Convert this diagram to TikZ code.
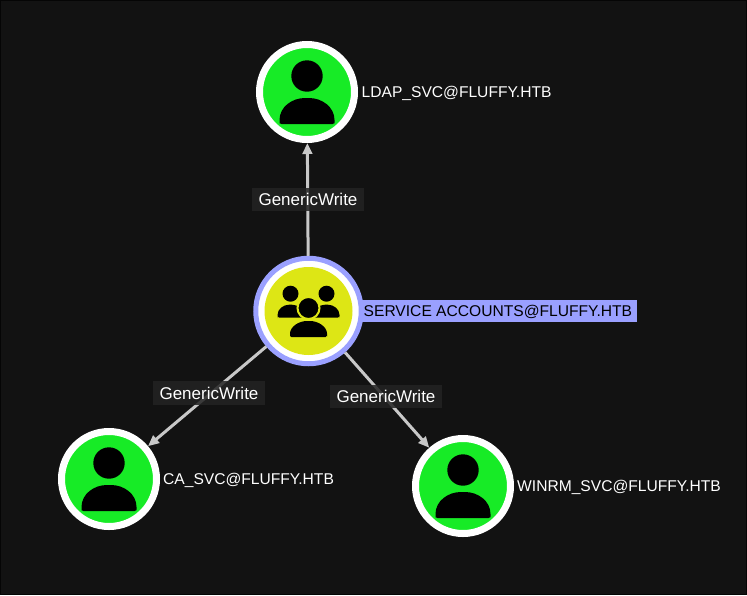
\documentclass[tikz,border=0pt]{standalone}
\usepackage{fontspec}
\setmainfont{Liberation Sans}
\definecolor{bgdark}{HTML}{121212}
\definecolor{usergreen}{HTML}{17EB26}
\definecolor{groupyellow}{HTML}{DDE615}
\definecolor{ringblue}{HTML}{9AA0FF}
\definecolor{edgegrey}{HTML}{C8C8C8}
\definecolor{tagdark}{HTML}{232323}
\usetikzlibrary{arrows.meta}
\tikzset{
  usernode/.style={circle, draw=white, fill=usergreen, line width=7pt, inner sep=0pt, minimum size=95pt},
  groupring/.style={circle, draw=ringblue, fill=white, line width=5pt, inner sep=0pt, minimum size=105.5pt},
  groupnode/.style={circle, fill=groupyellow, inner sep=0pt, minimum size=88pt},
  namelabel/.style={anchor=west, text=white, inner sep=0pt, font=\fontsize{15.6}{18}\selectfont},
  edgelabel/.style={fill=tagdark, fill opacity=0.85, text opacity=1, text=white, minimum width=112pt, minimum height=23.5pt, inner sep=0pt, font=\fontsize{17}{18}\selectfont},
  grant/.style={draw=edgegrey, line width=3pt, -{Triangle[length=11pt,width=9.5pt]}},
  personicon/.pic={
    \fill (0,-16) circle (15.7);
    \fill[rounded corners=2pt] (-27.5,32) -- (-27.5,30) .. controls (-27.5,15) and (-15,6) .. (0,6)
      .. controls (15,6) and (27.5,15) .. (27.5,30) -- (27.5,32) -- cycle;
  },
  sidebody/.pic={
    \fill[rounded corners=1.5pt] (-13,6.7) -- (-13,5.5) .. controls (-13,-2) and (-7,-6.3) .. (0,-6.3)
      .. controls (7,-6.3) and (13,-2) .. (13,5.5) -- (13,6.7) -- cycle;
  }
}
\begin{document}
\begin{tikzpicture}[x=1pt, y=-1pt]
\useasboundingbox (0,0) rectangle (747,595);
\fill[bgdark] (0,0) rectangle (747,595);
\draw[black!70!bgdark, line width=1pt] (0.5,0.5) rectangle (746.5,594.5);
% name tag runs under the ring
\node[fill=ringblue, anchor=west, minimum width=276pt, minimum height=22pt, inner sep=0pt] (svctag) at (361,311) {};
\node[usernode] (ldap) at (307,92) {};
\node[usernode] (casvc) at (109,479) {};
\node[usernode] (winrm) at (463,486) {};
\node[groupring] (svcring) at (308.5,311) {};
\node[groupnode] (svc) at (308.5,311) {};
\draw[grant] (svcring) -- (ldap);
\draw[grant] (svcring) -- (casvc);
\draw[grant] (svcring) -- (winrm);
\pic at (ldap) {personicon};
\pic at (casvc) {personicon};
\pic at (winrm) {personicon};
% group icon
\begin{scope}[shift={(svc)}]
  \fill (-18,-17.3) circle (8);
  \fill (18,-17.3) circle (8);
  \pic at (-18,0) {sidebody};
  \pic at (18,0) {sidebody};
  \fill[draw=groupyellow, line width=2pt] (0,-3) circle (11);
  \fill[rounded corners=1.5pt] (-18.5,26) -- (-18.5,24) .. controls (-18.5,16) and (-10,10) .. (0,10)
    .. controls (10,10) and (18.5,16) .. (18.5,24) -- (18.5,26) -- cycle;
\end{scope}
\node[namelabel] (ldaptext) at (361.5,93) {LDAP\_SVC@FLUFFY.HTB};
\node[namelabel, text=black] (svctext) at (363.5,312) {SERVICE ACCOUNTS@FLUFFY.HTB};
\node[namelabel] (catext) at (163,480) {CA\_SVC@FLUFFY.HTB};
\node[namelabel] (winrmtext) at (517,487) {WINRM\_SVC@FLUFFY.HTB};
\node[edgelabel] (ldapgrant) at (308,199.5) {GenericWrite};
\node[edgelabel] (cagrant) at (209,393) {GenericWrite};
\node[edgelabel] (winrmgrant) at (386,396.5) {GenericWrite};
\end{tikzpicture}
\end{document}
